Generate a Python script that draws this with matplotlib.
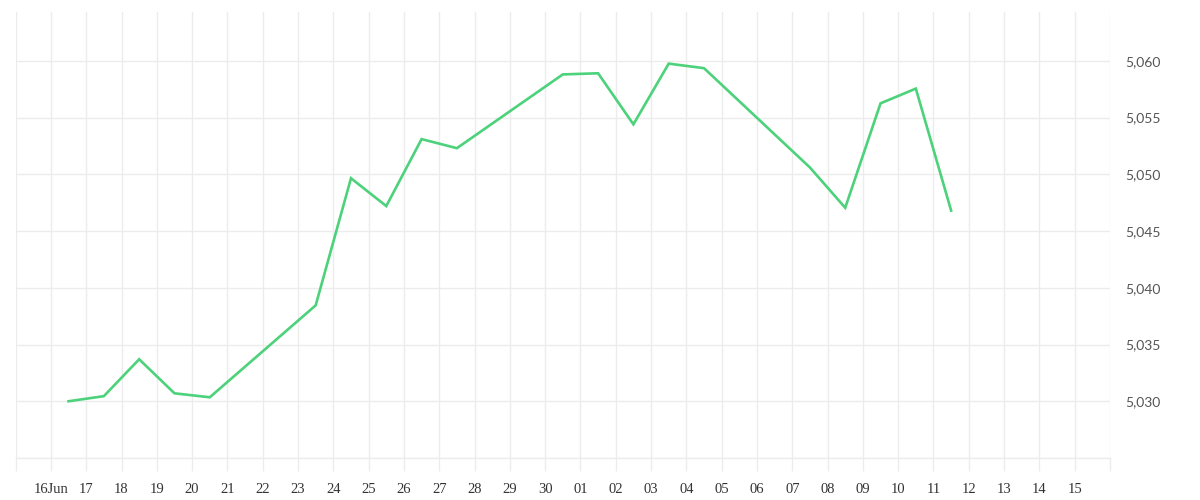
import pandas as pd
import matplotlib
matplotlib.use("Agg")
import matplotlib.pyplot as plt
import matplotlib.dates as mdates
from matplotlib.ticker import FuncFormatter, MultipleLocator

# daily closing values (missing days are market holidays)
dates = ["2024-06-16", "2024-06-17", "2024-06-18", "2024-06-19", "2024-06-20",
         "2024-06-23", "2024-06-24", "2024-06-25", "2024-06-26", "2024-06-27",
         "2024-06-30", "2024-07-01", "2024-07-02", "2024-07-03", "2024-07-04",
         "2024-07-07", "2024-07-08", "2024-07-09", "2024-07-10", "2024-07-11"]
values = [5030.0, 5030.45, 5033.7, 5030.7, 5030.35,
          5038.45, 5049.65, 5047.2, 5053.1, 5052.3,
          5058.8, 5058.9, 5054.4, 5059.75, 5059.35,
          5050.6, 5047.05, 5056.25, 5057.55, 5046.8]

x_start = "2024-06-15"
x_end = "2024-07-16"

line_color = "#4cd27a"
grid_color = "#ececec"

# points sit in the middle of each day
x = pd.to_datetime(dates) + pd.Timedelta(hours=12)

fig = plt.figure(figsize=(12, 5), dpi=100)
ax = fig.add_axes([0.013, 0.084, 0.912, 0.892])

ax.plot(x, values, color=line_color, linewidth=1.9, solid_joinstyle="miter")

ax.set_xlim(pd.Timestamp(x_start), pd.Timestamp(x_end))
ax.set_ylim(5025, 5064.3)

# x axis: one tick per day, label first as "16Jun"
ax.xaxis.set_major_locator(mdates.DayLocator())


def day_label(v, pos):
    d = mdates.num2date(v)
    if d.strftime("%Y-%m-%d") == "2024-06-16":
        return "16Jun"
    if d.strftime("%Y-%m-%d") in (x_start, x_end):
        return ""
    return d.strftime("%d")


ax.xaxis.set_major_formatter(FuncFormatter(day_label))
ax.yaxis.set_major_locator(MultipleLocator(5))
ax.yaxis.set_major_formatter(FuncFormatter(
    lambda v, p: "" if v < 5029 else f"{v:,.0f}"))
ax.yaxis.tick_right()

ax.grid(True, color=grid_color, linewidth=1)
ax.set_axisbelow(True)
for side in ["top", "right", "left"]:
    ax.spines[side].set_visible(False)
ax.spines["bottom"].set_color(grid_color)
ax.spines["bottom"].set_linewidth(1)

ax.tick_params(axis="x", length=9, width=1, color=grid_color, pad=9,
               labelsize=10.5, labelcolor="#333333")
ax.tick_params(axis="y", length=0, pad=11, labelsize=10, labelcolor="#555555")
for lab in ax.get_xticklabels():
    lab.set_fontfamily("Liberation Serif")
for lab in ax.get_yticklabels():
    lab.set_fontfamily("Lato")

fig.savefig("out.png", dpi=100, facecolor="white")
